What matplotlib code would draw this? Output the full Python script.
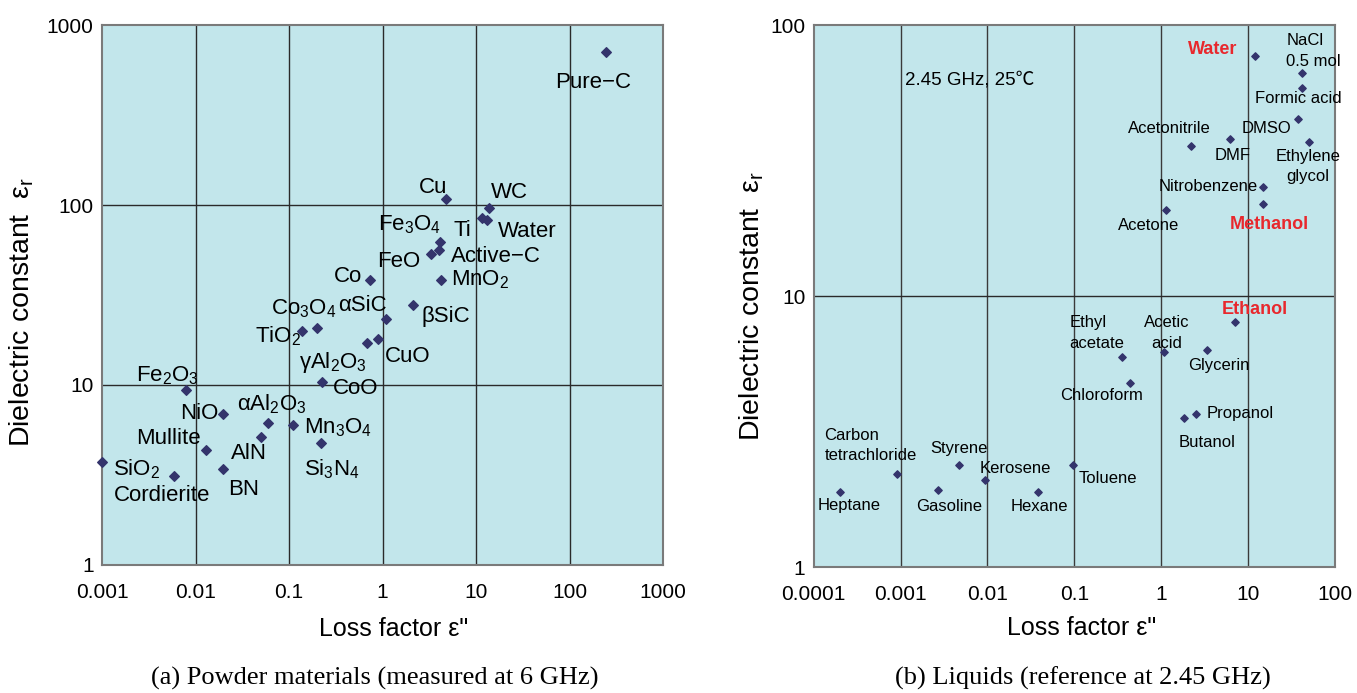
import numpy as np
import matplotlib
matplotlib.use('Agg')
import matplotlib.pyplot as plt
from matplotlib.ticker import FixedLocator, FixedFormatter, NullLocator

plt.rcParams['font.family'] = ['Liberation Sans', 'DejaVu Sans']
plt.rcParams['mathtext.fontset'] = 'custom'
plt.rcParams['mathtext.rm'] = 'Liberation Sans'
plt.rcParams['mathtext.it'] = 'Liberation Sans:italic'

# ---- (a) powder materials ----
powder_loss = [247, 4.8, 13.8, 11.5, 13.2, 4.12, 4.03, 3.29, 4.25, 0.73,
               2.12, 1.09, 0.20, 0.139, 0.68, 0.90, 0.225, 0.00787, 0.0195,
               0.0598, 0.111, 0.0505, 0.218, 0.01285, 0.001, 0.0195, 0.00584]
powder_eps = [711, 108, 95.8, 84.9, 82.6, 62, 56, 53.3, 38.4, 38.4,
              27.7, 23.4, 20.7, 19.9, 17.1, 18.1, 10.4, 9.38, 6.87,
              6.18, 5.99, 5.16, 4.78, 4.37, 3.72, 3.4, 3.11]

powder_labels = ['Pure\u2212C', 'Cu', 'WC', 'Fe$_3$O$_4$', 'Ti', 'Water', 'Active\u2212C',
                 'FeO', 'Co', 'MnO$_2$', 'Co$_3$O$_4$', '\u03b1SiC', '\u03b2SiC',
                 'TiO$_2$', 'CuO', '\u03b3Al$_2$O$_3$', 'CoO', 'Fe$_2$O$_3$', 'NiO',
                 '\u03b1Al$_2$O$_3$', 'Mn$_3$O$_4$', 'Mullite', 'AlN', 'Si$_3$N$_4$',
                 'SiO$_2$', 'Cordierite', 'BN']
# label anchor (left, centre) in data coords
powder_label_pos = [(70.6, 482), (2.47, 125), (14.5, 117), (0.885, 77.4), (5.8, 72),
                    (17.3, 71), (5.44, 51.5), (0.885, 48.4), (0.304, 39.9), (5.44, 38.3),
                    (0.0646, 26.6), (0.338, 27.7), (2.63, 24.1), (0.043, 18.7),
                    (1.07, 14.4), (0.129, 13.4), (0.297, 9.58), (0.0023, 11.3),
                    (0.00684, 6.9), (0.028, 7.78), (0.144, 5.75), (0.0023, 5.05),
                    (0.0239, 4.17), (0.144, 3.41), (0.0013, 3.41), (0.00133, 2.43),
                    (0.0222, 2.61)]

# ---- (b) liquids ----
liquid_loss = [12.1, 41.9, 41.9, 37.3, 49.7, 6.14, 2.23, 14.7, 14.7, 1.13, 7.13,
               0.355, 1.08, 3.41, 0.437, 2.5, 1.84, 0.0009, 0.00475, 0.0969,
               0.00938, 0.000202, 0.00271, 0.0381]
liquid_eps = [77.3, 66.9, 58.5, 45.1, 37.0, 37.9, 35.9, 25.3, 21.9, 20.8, 8.04,
              5.98, 6.2, 6.31, 4.77, 3.68, 3.56, 2.21, 2.39, 2.39,
              2.09, 1.89, 1.93, 1.89]

liquid_labels = ['Water', 'NaCl\n0.5 mol', 'Formic acid', 'DMSO', 'Acetonitrile', 'DMF',
                 'Ethylene\nglycol', 'Nitrobenzene', 'Methanol', 'Acetone', 'Ethanol',
                 'Ethyl\nacetate', 'Acetic\nacid', 'Glycerin', 'Chloroform', 'Propanol',
                 'Butanol', 'Carbon\ntetrachloride', 'Styrene', 'Kerosene', 'Toluene',
                 'Heptane', 'Gasoline', 'Hexane']
liquid_label_pos = [(2.06, 81.5), (27.7, 80.4), (11.9, 53.6), (8.37, 41.6), (0.412, 41.6),
                    (4.15, 33.0), (49.1, 30.1), (0.942, 25.5), (6.21, 18.4), (0.32, 18.2),
                    (4.93, 8.93), (0.0883, 7.31), (1.15, 7.31), (2.06, 5.53), (0.0694, 4.3),
                    (3.34, 3.69), (1.6, 2.89), (0.000133, 2.81), (0.00218, 2.73),
                    (0.00807, 2.32), (0.111, 2.13), (0.00011, 1.68), (0.00151, 1.67),
                    (0.0185, 1.67)]
highlight = ['Water', 'Methanol', 'Ethanol']
centered = ['Ethylene\nglycol', 'Acetic\nacid']

powder_xticks = [0.001, 0.01, 0.1, 1, 10, 100, 1000]
powder_xticklabels = ['0.001', '0.01', '0.1', '1', '10', '100', '1000']
powder_yticks = [1, 10, 100, 1000]
liquid_xticks = [0.0001, 0.001, 0.01, 0.1, 1, 10, 100]
liquid_xticklabels = ['0.0001', '0.001', '0.01', '0.1', '1', '10', '100']
liquid_yticks = [1, 10, 100]

BG = '#c2e6eb'
MARK = '#34346c'
RED = '#e8282d'

fig = plt.figure(figsize=(13.57, 6.93), dpi=100)
ax1 = fig.add_axes([0.0752, 0.1850, 0.4134, 0.7786])
ax2 = fig.add_axes([0.5996, 0.1818, 0.3841, 0.7817])


def style_axes(ax, xticks, xlabels, yticks, xlim, ylim):
    ax.set_xscale('log')
    ax.set_yscale('log')
    ax.set_xlim(*xlim)
    ax.set_ylim(*ylim)
    ax.set_facecolor(BG)
    ax.xaxis.set_major_locator(FixedLocator(xticks))
    ax.xaxis.set_major_formatter(FixedFormatter(xlabels))
    ax.yaxis.set_major_locator(FixedLocator(yticks))
    ax.yaxis.set_major_formatter(FixedFormatter([str(t) for t in yticks]))
    ax.xaxis.set_minor_locator(NullLocator())
    ax.yaxis.set_minor_locator(NullLocator())
    ax.tick_params(axis='both', length=0, labelsize=15)
    ax.tick_params(axis='x', pad=13)
    ax.tick_params(axis='y', pad=6)
    for s in ax.spines.values():
        s.set_color('#7a7a7a')
        s.set_linewidth(1.5)
    ax.set_xlabel('Loss factor \u03b5"', fontsize=18)
    ax.set_ylabel('Dielectric constant  \u03b5$_\\mathrm{r}$', fontsize=20.5)


# (a)
style_axes(ax1, powder_xticks, powder_xticklabels, powder_yticks, (0.001, 1000), (1, 1000))
ax1.xaxis.set_label_coords(0.52, -0.096)
ax1.yaxis.set_label_coords(-0.118, 0.468)
for v in powder_xticks[1:-1]:
    ax1.axvline(v, color='#2a2a2a', lw=1.0, zorder=1)
for v in powder_yticks[1:-1]:
    ax1.axhline(v, color='#2a2a2a', lw=1.0, zorder=1)
ax1.scatter(powder_loss, powder_eps, marker='D', s=24, color=MARK, zorder=3, clip_on=False)
for lab, (lx, ly) in zip(powder_labels, powder_label_pos):
    ax1.text(lx, ly, lab, fontsize=16, ha='left', va='center', zorder=4)

# (b)
style_axes(ax2, liquid_xticks, liquid_xticklabels, liquid_yticks, (0.0001, 100), (1, 100))
ax2.xaxis.set_label_coords(0.515, -0.091)
ax2.yaxis.set_label_coords(-0.091, 0.481)
for v in liquid_xticks[1:-1]:
    ax2.axvline(v, color='#3a3a3a', lw=1.0, zorder=1)
for v in liquid_yticks[1:-1]:
    ax2.axhline(v, color='#2a2a2a', lw=1.0, zorder=1)
ax2.scatter(liquid_loss, liquid_eps, marker='D', s=14, color=MARK, zorder=3)
for lab, (lx, ly) in zip(liquid_labels, liquid_label_pos):
    if lab in highlight:
        ax2.text(lx, ly, lab, fontsize=13, fontweight='bold', color=RED,
                 ha='left', va='center', zorder=4)
    else:
        ax2.text(lx, ly, lab, fontsize=12, ha='center' if lab in centered else 'left',
                 va='center', linespacing=1.45, zorder=4)
ax2.text(0.00112, 62.8, '2.45 GHz, 25\u2103', fontsize=13.5, ha='left', va='center',
         family=['Liberation Sans', 'Noto Sans CJK JP'])

fig.text(375 / 1357, 1 - 678 / 693, '(a) Powder materials (measured at 6 GHz)',
         family='Liberation Serif', fontsize=19, ha='center', va='center')
fig.text(1083 / 1357, 1 - 678 / 693, '(b) Liquids (reference at 2.45 GHz)',
         family='Liberation Serif', fontsize=19, ha='center', va='center')

fig.savefig('out.png', dpi=100)
